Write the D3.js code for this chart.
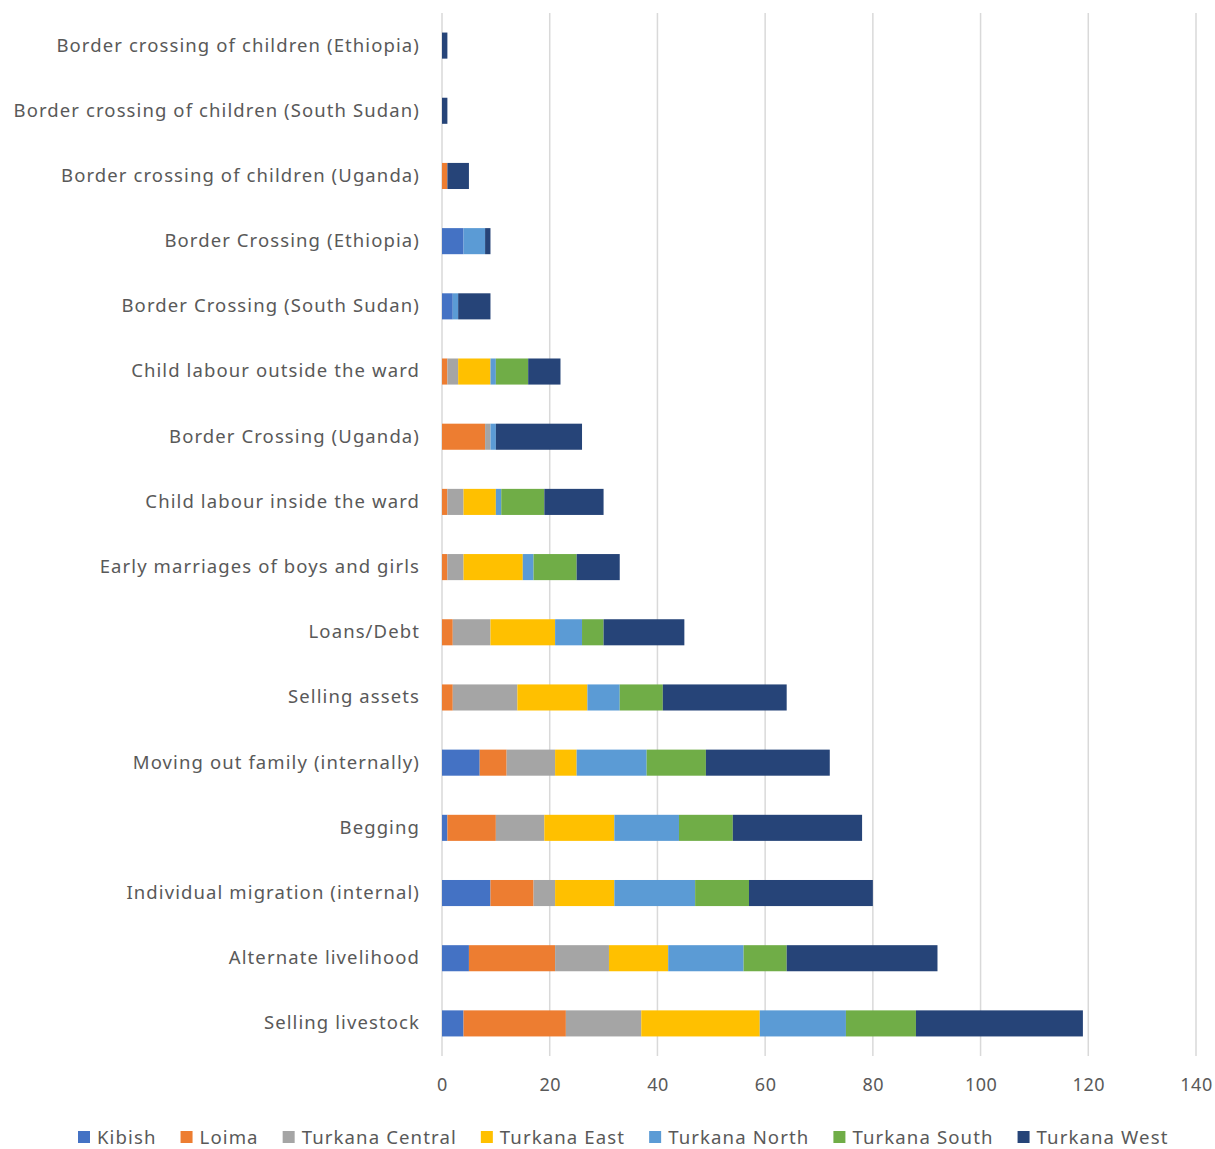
<!DOCTYPE html>
<html>
<head>
<meta charset="utf-8">
<script src="https://cdn.jsdelivr.net/npm/d3@7"></script>
<style>
  html, body { margin: 0; padding: 0; background: #fff; }
  svg { display: block; }
  text { font-family: "Noto Sans", "Open Sans", sans-serif; fill: #595959; }
</style>
</head>
<body>
<svg id="chart" width="1215" height="1149"></svg>
<script>
// Coping strategies, listed top to bottom
const categories = [
  "Border crossing of children (Ethiopia)",
  "Border crossing of children (South Sudan)",
  "Border crossing of children (Uganda)",
  "Border Crossing (Ethiopia)",
  "Border Crossing (South Sudan)",
  "Child labour outside the ward",
  "Border Crossing (Uganda)",
  "Child labour inside the ward",
  "Early marriages of boys and girls",
  "Loans/Debt",
  "Selling assets",
  "Moving out family (internally)",
  "Begging",
  "Individual migration (internal)",
  "Alternate livelihood",
  "Selling livestock"
];

const seriesNames = ["Kibish", "Loima", "Turkana Central", "Turkana East", "Turkana North", "Turkana South", "Turkana West"];
const seriesColors = ["#4472C4", "#ED7D31", "#A5A5A5", "#FFC000", "#5B9BD5", "#70AD47", "#264478"];

// Counts per ward, in the same order as categories
const kibish         = [0, 0, 0, 4, 2, 0, 0, 0, 0, 0, 0, 7, 1, 9, 5, 4];
const loima          = [0, 0, 1, 0, 0, 1, 8, 1, 1, 2, 2, 5, 9, 8, 16, 19];
const turkanaCentral = [0, 0, 0, 0, 0, 2, 1, 3, 3, 7, 12, 9, 9, 4, 10, 14];
const turkanaEast    = [0, 0, 0, 0, 0, 6, 0, 6, 11, 12, 13, 4, 13, 11, 11, 22];
const turkanaNorth   = [0, 0, 0, 4, 1, 1, 1, 1, 2, 5, 6, 13, 12, 15, 14, 16];
const turkanaSouth   = [0, 0, 0, 0, 0, 6, 0, 8, 8, 4, 8, 11, 10, 10, 8, 13];
const turkanaWest    = [1, 1, 4, 1, 6, 6, 16, 11, 8, 15, 23, 23, 24, 23, 28, 31];

const xTicks = [0, 20, 40, 60, 80, 100, 120, 140];

const seriesValues = [kibish, loima, turkanaCentral, turkanaEast, turkanaNorth, turkanaSouth, turkanaWest];

const rows = categories.map((c, i) => {
  const r = { category: c };
  seriesNames.forEach((s, j) => { r[s] = seriesValues[j][i]; });
  return r;
});

const stacked = d3.stack().keys(seriesNames)(rows);

const svg = d3.select("#chart");
const margin = { left: 442, right: 19, top: 13, bottom: 93 };
const W = 1215, H = 1149;

const x = d3.scaleLinear().domain([0, 140]).range([margin.left, W - margin.right]);
const y = d3.scaleBand().domain(categories).range([margin.top, H - margin.bottom]).paddingInner(0.6).paddingOuter(0.3);

// Vertical gridlines
svg.append("g")
  .selectAll("line")
  .data(xTicks)
  .join("line")
  .attr("x1", d => x(d)).attr("x2", d => x(d))
  .attr("y1", margin.top).attr("y2", H - margin.bottom)
  .attr("stroke", "#d9d9d9")
  .attr("stroke-width", 1.5);

// Stacked bars
svg.append("g")
  .selectAll("g")
  .data(stacked)
  .join("g")
  .attr("fill", (d, i) => seriesColors[i])
  .selectAll("rect")
  .data(d => d)
  .join("rect")
  .attr("x", d => x(d[0]))
  .attr("y", d => y(d.data.category))
  .attr("width", d => Math.max(0, x(d[1]) - x(d[0])))
  .attr("height", y.bandwidth());

// Value axis labels
const xAxis = d3.axisBottom(x).tickValues(xTicks).tickSize(0).tickPadding(0);
const gx = svg.append("g")
  .attr("transform", `translate(0, ${H - margin.bottom + 22})`)
  .call(xAxis);
gx.select(".domain").remove();
gx.selectAll("text")
  .attr("dy", "0.71em")
  .style("font-size", "18px")
  .style("font-family", "'Noto Sans', sans-serif")
  .style("letter-spacing", "0.5px")
  .attr("fill", "#595959");

// Category axis labels
const yAxis = d3.axisLeft(y).tickSize(0).tickPadding(22);
const gy = svg.append("g")
  .attr("transform", `translate(${margin.left}, 0)`)
  .call(yAxis);
gy.select(".domain").remove();
gy.selectAll("text")
  .style("font-size", "18.5px")
  .style("font-family", "'Noto Sans', sans-serif")
  .style("letter-spacing", "1.1px")
  .attr("fill", "#595959");

// Legend
const legend = svg.append("g").attr("transform", "translate(78, 1137)");
let lx = 0;
seriesNames.forEach((name, i) => {
  const item = legend.append("g").attr("transform", `translate(${lx}, 0)`);
  item.append("rect")
    .attr("x", 0).attr("y", -6)
    .attr("width", 12).attr("height", 12)
    .attr("fill", seriesColors[i]);
  const t = item.append("text")
    .attr("x", 19).attr("y", 0).attr("dy", "0.35em")
    .style("font-size", "18.6px")
    .style("letter-spacing", "1.1px")
    .text(name);
  lx += 19 + t.node().getComputedTextLength() + 24;
});
</script>
</body>
</html>
